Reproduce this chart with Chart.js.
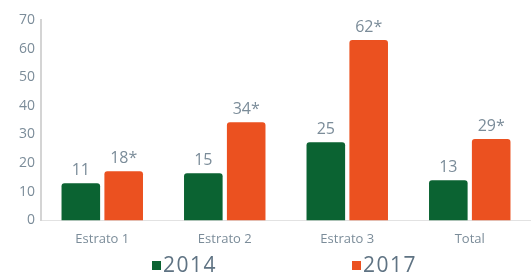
<!DOCTYPE html>
<html>
<head>
<meta charset="utf-8">
<script src="https://cdn.jsdelivr.net/npm/chart.js@4"></script>
<style>
  html, body { margin: 0; padding: 0; background: #ffffff; }
  #wrap { position: relative; width: 531px; height: 276px; }
  #legend { position: absolute; left: 0; top: 252px; width: 531px; height: 24px; font-family: "Open Sans", sans-serif; }
  .item { position: absolute; top: 0; display: flex; align-items: center; color: #5f7383; font-size: 21px; letter-spacing: 1.5px; line-height: 24px; }
  .item i { display: inline-block; width: 9px; height: 9px; margin-right: 2px; margin-top: 2px; }
</style>
</head>
<body>
<div id="wrap">
  <canvas id="chart" width="531" height="276"></canvas>
  <div id="legend"></div>
</div>
<script>
// data
const categories = ['Estrato 1', 'Estrato 2', 'Estrato 3', 'Total'];
const series2014 = [13, 16.5, 27.3, 14];
const series2017 = [17.2, 34.3, 63, 28.4];
const labels2014 = ['11', '15', '25', '13'];
const labels2017 = ['18*', '34*', '62*', '29*'];
const yTicks = [0, 10, 20, 30, 40, 50, 60, 70];

const GREEN = '#0b6332';
const ORANGE = '#eb5120';
const TEXT = '#7b8c99';

// value labels above each bar
const barLabels = {
    id: 'barLabels',
    afterDatasetsDraw(chart) {
        const ctx = chart.ctx;
        ctx.save();
        ctx.font = '16px "Open Sans"';
        ctx.fillStyle = TEXT;
        ctx.textAlign = 'center';
        ctx.textBaseline = 'alphabetic';
        chart.data.datasets.forEach((ds, i) => {
            chart.getDatasetMeta(i).data.forEach((bar, j) => {
                ctx.fillText(ds.valueLabels[j], bar.x, bar.y - 8);
            });
        });
        ctx.restore();
    }
};

const chart = new Chart(document.getElementById('chart'), {
    type: 'bar',
    data: {
        labels: categories,
        datasets: [
            {
                label: '2014',
                data: series2014,
                valueLabels: labels2014,
                backgroundColor: GREEN,
                borderRadius: { topLeft: 3, topRight: 3 },
                borderSkipped: false
            },
            {
                label: '2017',
                data: series2017,
                valueLabels: labels2017,
                backgroundColor: ORANGE,
                borderRadius: { topLeft: 3, topRight: 3 },
                borderSkipped: false
            }
        ]
    },
    options: {
        responsive: false,
        animation: false,
        layout: { padding: { top: 20, left: 13, right: 0, bottom: 18 } },
        categoryPercentage: 0.7,
        barPercentage: 0.9,
        plugins: {
            legend: { display: false },
            tooltip: { enabled: false }
        },
        scales: {
            x: {
                grid: { display: false, drawTicks: false },
                border: { color: '#e2e2e2', width: 1 },
                ticks: { color: TEXT, padding: 11, font: { family: 'Open Sans', size: 13 } }
            },
            y: {
                min: 0,
                max: 70,
                afterBuildTicks: axis => { axis.ticks = yTicks.map(v => ({ value: v })); },
                grid: { display: false, drawTicks: false },
                border: { color: '#d4d4d4', width: 2 },
                ticks: { color: TEXT, padding: 6, font: { family: 'Open Sans', size: 14 } }
            }
        }
    },
    plugins: [barLabels]
});

// legend, spaced out like the reference
const legend = document.getElementById('legend');
const legendX = [152, 352];
chart.data.datasets.forEach((ds, i) => {
    const el = document.createElement('div');
    el.className = 'item';
    el.style.left = legendX[i] + 'px';
    el.innerHTML = '<i style="background:' + ds.backgroundColor + '"></i>' + ds.label;
    legend.appendChild(el);
});
</script>
</body>
</html>
